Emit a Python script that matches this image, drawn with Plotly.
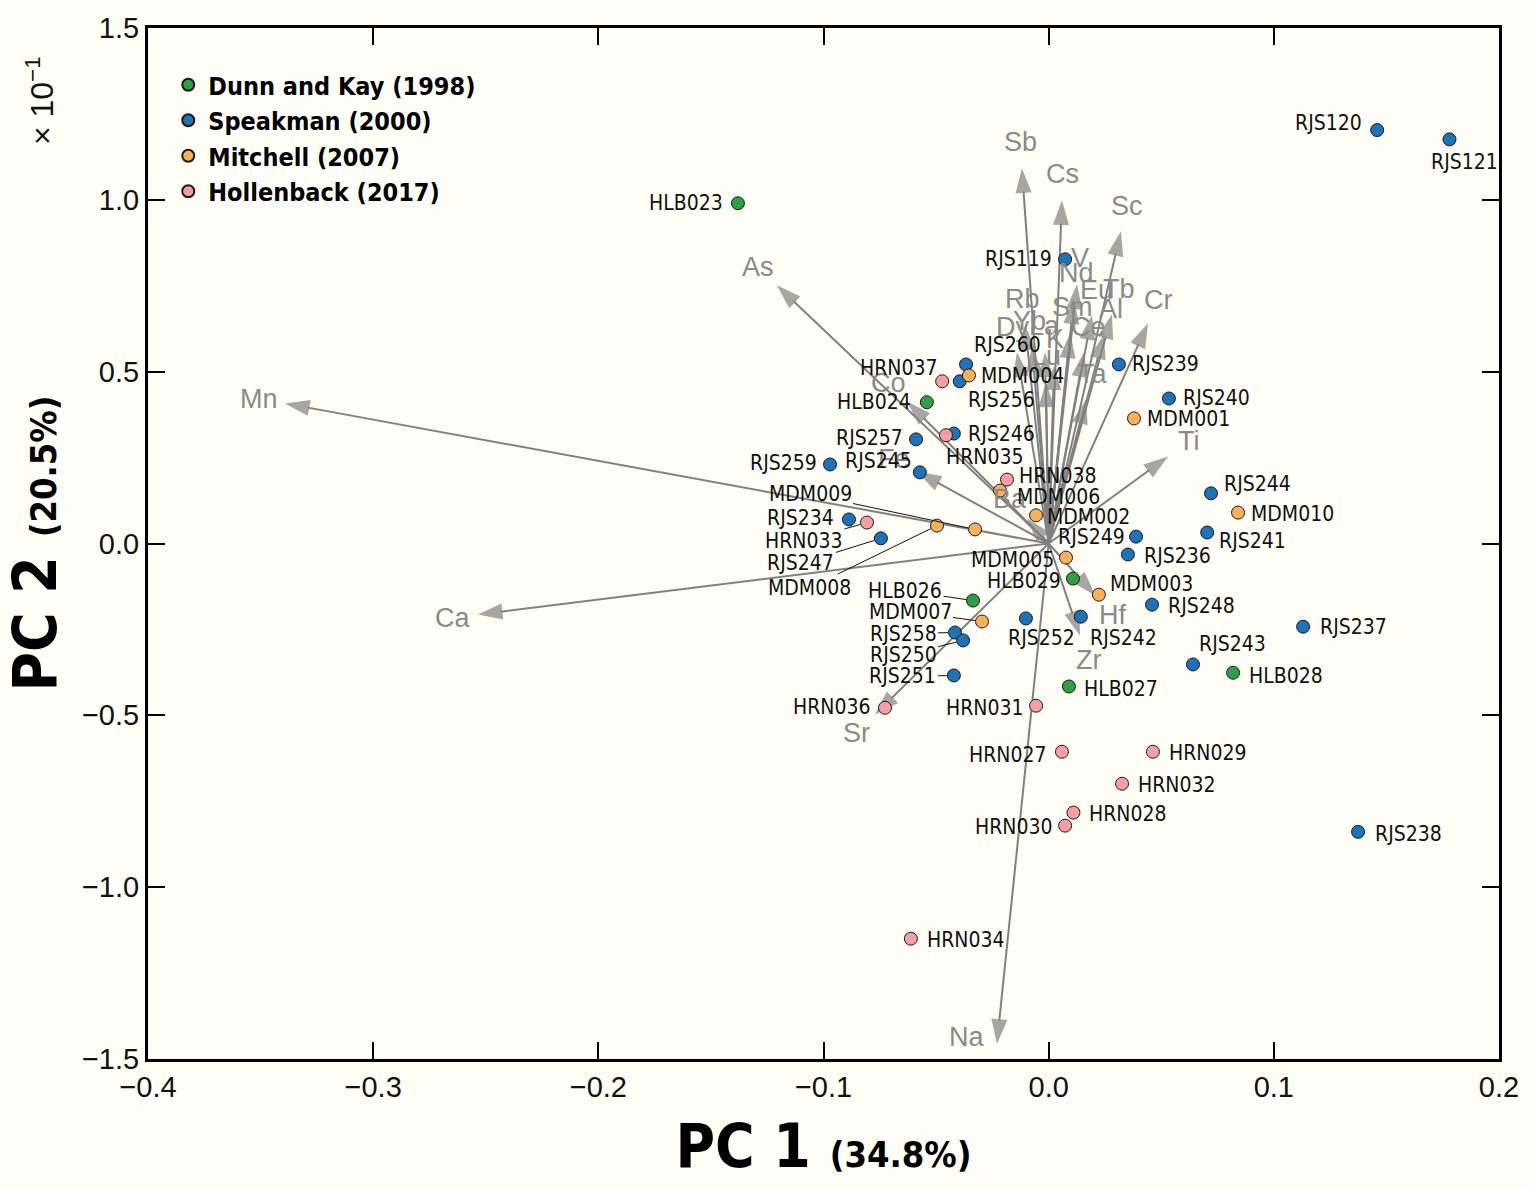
import math
import plotly.graph_objects as go

# ---------------- data ----------------
dk_names = ["HLB023", "HLB024", "HLB026", "HLB029", "HLB027", "HLB028"]
dk_pc1 = [-0.138, -0.0541, -0.0336, 0.0108, 0.0090, 0.0819]
dk_pc2 = [0.990, 0.411, -0.166, -0.102, -0.416, -0.376]

sp_names = ["RJS120", "RJS121", "RJS119", "RJS260", "RJS256", "RJS239", "RJS240",
            "RJS246", "RJS257", "RJS259", "RJS245", "RJS244", "RJS241", "RJS234",
            "RJS247", "RJS249", "RJS236", "RJS248", "RJS237", "RJS252", "RJS242",
            "RJS258", "RJS250", "RJS251", "RJS243", "RJS238"]
sp_pc1 = [0.1459, 0.1780, 0.0073, -0.0367, -0.0395, 0.0312, 0.0534,
          -0.0421, -0.0589, -0.0971, -0.0572, 0.0721, 0.0704, -0.0887,
          -0.0745, 0.0388, 0.0352, 0.0459, 0.1130, -0.0101, 0.0143,
          -0.0416, -0.0380, -0.0421, 0.0641, 0.1374]
sp_pc2 = [1.203, 1.176, 0.827, 0.521, 0.472, 0.521, 0.422,
          0.320, 0.303, 0.230, 0.207, 0.146, 0.032, 0.070,
          0.015, 0.020, -0.032, -0.178, -0.242, -0.218, -0.213,
          -0.259, -0.282, -0.384, -0.352, -0.839]

mi_names = ["MDM004", "MDM001", "MDM006", "MDM002", "MDM010", "MDM009", "MDM008",
            "MDM005", "MDM003", "MDM007"]
mi_pc1 = [-0.0354, 0.0379, -0.0216, -0.0056, 0.0841, -0.0327, -0.0496,
          0.0077, 0.0223, -0.0296]
mi_pc2 = [0.489, 0.364, 0.154, 0.082, 0.090, 0.041, 0.052,
          -0.041, -0.149, -0.227]

ho_names = ["HRN037", "HRN035", "HRN038", "HRN033", "HRN036", "HRN031", "HRN027",
            "HRN029", "HRN032", "HRN028", "HRN030", "HRN034"]
ho_pc1 = [-0.0473, -0.0456, -0.0185, -0.0807, -0.0727, -0.0056, 0.0059,
          0.0463, 0.0326, 0.0110, 0.0073, -0.0612]
ho_pc2 = [0.472, 0.315, 0.186, 0.061, -0.478, -0.472, -0.606,
          -0.606, -0.699, -0.783, -0.821, -1.150]

# loading vectors
vec_names = ["Mn", "Ca", "As", "Co", "Fe", "Ba", "Ti", "Hf", "Zr", "Sr", "Na",
             "Sb", "Cs", "Sc", "Cr", "V", "Nd", "Eu", "Tb", "Rb", "Sm", "Al",
             "Dy", "Yb", "La", "Ce", "K", "Lu", "Ta"]
vec_pc1 = [-0.3392, -0.2535, -0.1207, -0.0629, -0.0585, -0.0096, 0.0530, 0.0206,
           0.0139, -0.0772, -0.0230, -0.0119, 0.0059, 0.0321, 0.0441, 0.0126,
           0.0112, 0.0192, 0.0281, -0.0105, 0.0095, 0.0246, -0.0141, -0.0074,
           -0.0016, 0.0157, 0.0024, -0.0012, 0.0166]
vec_pc2 = [0.4077, -0.2068, 0.7513, 0.4135, 0.2097, 0.0728, 0.2533, -0.1514,
           -0.2679, -0.4980, -1.4560, 1.0920, 0.9988, 0.9086, 0.6407, 0.7542,
           0.7105, 0.6640, 0.6669, 0.6348, 0.6115, 0.6086, 0.5562, 0.5708,
           0.5562, 0.5562, 0.5183, 0.4688, 0.4193]

x_ticks = [-0.4, -0.3, -0.2, -0.1, 0.0, 0.1, 0.2]
y_ticks = [-1.5, -1.0, -0.5, 0.0, 0.5, 1.0, 1.5]

# ---------------- styling / layout ----------------
W, H = 1534, 1189
ML, MR, MT, MB = 148, 35, 22, 130
XR = [-0.4, 0.2]
YR = [-1.5, 1.5]
px_per_x = (W - ML - MR) / (XR[1] - XR[0])
px_per_y = (H - MT - MB) / (YR[1] - YR[0])

BG = "#fefef6"
NARROW = "Liberation Sans Narrow, DejaVu Sans Condensed, Arial Narrow, sans-serif"
PLAIN = "Liberation Sans, Arial, Helvetica, sans-serif"
GRAY = "#808080"

groups = [
    ("Dunn and Kay (1998)", dk_names, dk_pc1, dk_pc2, "#2f9e44"),
    ("Speakman (2000)", sp_names, sp_pc1, sp_pc2, "#1f71b8"),
    ("Mitchell (2007)", mi_names, mi_pc1, mi_pc2, "#f7b05b"),
    ("Hollenback (2017)", ho_names, ho_pc1, ho_pc2, "#f4a0a3"),
]

# label placement (pixel offsets from the point; dy positive = down)
place = {
    "HLB023": ("r", -13, 0), "HLB024": ("r", -14, 0), "HLB026": ("lead", -68, -10),
    "HLB029": ("r", -10, 2), "HLB027": ("l", 13, 3), "HLB028": ("l", 14, 3),
    "RJS120": ("r", -13, -7), "RJS121": ("c", 15, 23), "RJS119": ("r", -11, 0),
    "RJS260": ("l", 6, -19), "RJS256": ("l", 6, 19), "RJS239": ("l", 11, 0),
    "RJS240": ("l", 12, 0), "RJS246": ("l", 12, 0), "RJS257": ("r", -11, -1),
    "RJS259": ("r", -11, -1), "RJS245": ("r", -6, -11), "RJS244": ("l", 11, -9),
    "RJS241": ("l", 10, 8), "RJS234": ("r", -13, -1), "RJS247": ("lead", -80, 25),
    "RJS249": ("r", -9, 0), "RJS236": ("l", 14, 1), "RJS248": ("l", 14, 1),
    "RJS237": ("l", 15, 0), "RJS252": ("c", 16, 20), "RJS242": ("l", 7, 21),
    "RJS258": ("lead", -52, 1), "RJS250": ("lead", -60, 15), "RJS251": ("lead", -51, 1),
    "RJS243": ("l", 4, -20), "RJS238": ("l", 15, 2),
    "MDM004": ("l", 10, 1), "MDM001": ("l", 11, 1), "MDM006": ("l", 15, 6),
    "MDM002": ("l", 9, 2), "MDM010": ("l", 11, 1), "MDM009": ("lead", -165, -35),
    "MDM008": ("lead", -127, 62), "MDM005": ("r", -10, 2), "MDM003": ("l", 9, -11),
    "MDM007": ("lead", -72, -10),
    "HRN037": ("r", -2, -13), "HRN035": ("l", -2, 22), "HRN038": ("l", 10, -4),
    "HRN033": ("lead", -63, 18), "HRN036": ("r", -12, -1), "HRN031": ("r", -10, 2),
    "HRN027": ("r", -13, 3), "HRN029": ("l", 14, 1), "HRN032": ("l", 14, 1),
    "HRN028": ("l", 14, 1), "HRN030": ("r", -10, 1), "HRN034": ("l", 14, 1),
}
vec_label_override = {"Na": (-30, -7)}
VEC_LABEL_DIST = 26

fig = go.Figure()

# vectors as one trace (lines + arrow markers)
vx, vy, vsize = [], [], []
for a, b in zip(vec_pc1, vec_pc2):
    vx += [0, a, None]
    vy += [0, b, None]
    vsize += [0, 26, 0]
fig.add_trace(go.Scatter(
    x=vx, y=vy, mode="lines+markers", showlegend=False, hoverinfo="skip",
    line=dict(color=GRAY, width=2),
    marker=dict(symbol="arrow", angleref="previous", size=vsize, color=GRAY,
                line=dict(width=0)),
))

annotations = []
for name, a, b in zip(vec_names, vec_pc1, vec_pc2):
    if name in vec_label_override:
        dx, dy = vec_label_override[name]
    else:
        px, py = a * px_per_x, b * px_per_y
        n = math.hypot(px, py)
        dx, dy = VEC_LABEL_DIST * px / n, -VEC_LABEL_DIST * py / n
    annotations.append(dict(
        x=a, y=b, xref="x", yref="y", text=name, showarrow=False,
        xanchor="center", yanchor="middle", xshift=dx, yshift=-dy,
        font=dict(family=PLAIN, size=27, color="#8a8a8a"),
    ))

# sample points
for gname, names, xs, ys, col in groups:
    fig.add_trace(go.Scatter(
        x=xs, y=ys, mode="markers", name=gname, text=names,
        marker=dict(size=13, color=col, line=dict(color="#1a1a1a", width=1)),
    ))
    for nm, a, b in zip(names, xs, ys):
        kind, dx, dy = place[nm]
        f = dict(family=NARROW, size=21, color="#111111")
        if kind == "lead":
            annotations.append(dict(
                x=a, y=b, xref="x", yref="y", text=nm, showarrow=True,
                arrowhead=0, arrowwidth=1, arrowcolor="#111111", ax=dx, ay=dy,
                standoff=7, font=f,
            ))
        else:
            xa = {"l": "left", "r": "right", "c": "center"}[kind]
            annotations.append(dict(
                x=a, y=b, xref="x", yref="y", text=nm, showarrow=False,
                xanchor=xa, yanchor="middle", xshift=dx, yshift=-dy, font=f,
            ))

# x 10^-1 multiplier
annotations.append(dict(
    x=-0.080, y=0.93, xref="paper", yref="paper", text="× 10<sup>−1</sup>",
    xanchor="center", yanchor="middle",
    showarrow=False, textangle=-90, font=dict(family=PLAIN, size=32, color="#111111"),
))

axis_common = dict(
    showline=True, linecolor="black", linewidth=3, mirror="ticks",
    ticks="inside", ticklen=17, tickwidth=2, tickcolor="black",
    showgrid=False, zeroline=False, tickformat=".1f",
    tickfont=dict(family=PLAIN, size=29, color="#111111"),
)

fig.update_layout(
    width=W, height=H,
    margin=dict(l=ML, r=MR, t=MT, b=MB),
    paper_bgcolor=BG, plot_bgcolor=BG,
    xaxis=dict(range=XR, tickvals=x_ticks, **axis_common,
               title=dict(text="<b>PC 1 <span style='font-size:36px'>(34.8%)</span></b>",
                          font=dict(family=NARROW, size=60, color="black"), standoff=24)),
    yaxis=dict(range=YR, tickvals=y_ticks, **axis_common,
               title=dict(text="<b>PC 2 <span style='font-size:36px'>(20.5%)</span></b>",
                          font=dict(family=NARROW, size=60, color="black"), standoff=16)),
    legend=dict(x=0.015, y=0.967, xanchor="left", yanchor="top",
                bgcolor="rgba(0,0,0,0)",
                font=dict(family=NARROW, size=25, color="black", weight="bold"),
                itemsizing="constant", tracegroupgap=0),
    annotations=annotations,
    showlegend=True,
)

fig.write_html("out.html")
